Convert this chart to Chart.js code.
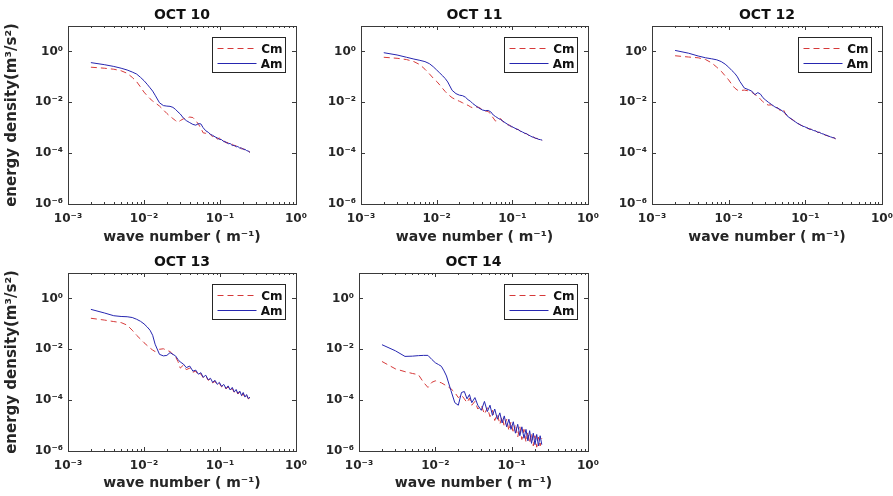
<!DOCTYPE html>
<html>
<head>
<meta charset="utf-8">
<script src="https://cdn.jsdelivr.net/npm/chart.js@4.4.0/dist/chart.umd.min.js"></script>
<style>
  html, body { margin: 0; padding: 0; background: #fff; }
  body { width: 893px; height: 496px; position: relative; overflow: hidden; }
  canvas { position: absolute; }
</style>
</head>
<body>
<canvas id="c10"></canvas>
<canvas id="c11"></canvas>
<canvas id="c12"></canvas>
<canvas id="c13"></canvas>
<canvas id="c14"></canvas>
<script>
// wave number grid (m^-1), shared by every panel
const waveNumber = [
  0.002, 0.003, 0.004, 0.005, 0.006, 0.007, 0.008, 0.009, 0.010, 0.011, 0.012, 0.013, 0.014,
  0.016, 0.018, 0.020, 0.022, 0.024, 0.026, 0.028, 0.030, 0.033, 0.036, 0.040, 0.044, 0.048,
  0.052, 0.056, 0.060, 0.065, 0.070, 0.075, 0.080, 0.086, 0.092, 0.098, 0.105, 0.112, 0.120,
  0.128, 0.136, 0.145, 0.154, 0.163, 0.172, 0.182, 0.192, 0.202, 0.213, 0.224, 0.236, 0.248
];

// energy density, stored as log10 (m^3/s^2)
const oct10Cm = [
  -0.62, -0.66, -0.70, -0.76, -0.86, -1.02, -1.19, -1.40, -1.60, -1.74, -1.86, -1.95, -2.02,
  -2.15, -2.30, -2.44, -2.55, -2.64, -2.72, -2.79, -2.72, -2.65, -2.62, -2.58, -2.60, -2.72,
  -2.86, -3.02, -3.20, -3.22, -3.16, -3.28, -3.35, -3.32, -3.45, -3.40, -3.52, -3.50, -3.60,
  -3.58, -3.66, -3.64, -3.72, -3.70, -3.77, -3.77, -3.83, -3.82, -3.88, -3.87, -3.93, -3.96
];
const oct10Am = [
  -0.44, -0.52, -0.59, -0.66, -0.73, -0.81, -0.89, -1.02, -1.15, -1.29, -1.43, -1.56, -1.72,
  -2.02, -2.13, -2.15, -2.16, -2.20, -2.28, -2.38, -2.46, -2.62, -2.72, -2.80, -2.87, -2.90,
  -2.84, -2.85, -3.00, -3.12, -3.18, -3.26, -3.30, -3.36, -3.40, -3.46, -3.47, -3.55, -3.56,
  -3.63, -3.62, -3.70, -3.69, -3.75, -3.74, -3.80, -3.80, -3.85, -3.85, -3.90, -3.92, -3.97
];
const oct11Cm = [
  -0.23, -0.27, -0.32, -0.40, -0.52, -0.70, -0.88, -1.05, -1.18, -1.32, -1.46, -1.58, -1.68,
  -1.82, -1.90, -1.96, -2.02, -2.08, -2.12, -2.18, -2.22, -2.18, -2.20, -2.28, -2.34, -2.36,
  -2.48, -2.62, -2.74, -2.70, -2.64, -2.76, -2.80, -2.88, -2.90, -2.97, -2.99, -3.06, -3.07,
  -3.15, -3.16, -3.23, -3.23, -3.30, -3.31, -3.37, -3.37, -3.42, -3.42, -3.47, -3.46, -3.50
];
const oct11Am = [
  -0.05, -0.14, -0.23, -0.30, -0.35, -0.40, -0.48, -0.60, -0.73, -0.85, -0.96, -1.07, -1.20,
  -1.53, -1.66, -1.72, -1.74, -1.80, -1.90, -1.96, -2.05, -2.14, -2.22, -2.30, -2.33, -2.32,
  -2.38, -2.50, -2.56, -2.63, -2.68, -2.74, -2.80, -2.86, -2.92, -2.95, -3.00, -3.04, -3.08,
  -3.13, -3.17, -3.21, -3.24, -3.28, -3.32, -3.36, -3.38, -3.41, -3.43, -3.46, -3.47, -3.49
];
const oct12Cm = [
  -0.17, -0.22, -0.25, -0.32, -0.45, -0.62, -0.78, -0.96, -1.12, -1.30, -1.44, -1.52, -1.54,
  -1.52, -1.55, -1.60, -1.70, -1.76, -1.88, -1.98, -2.06, -2.11, -2.10, -2.20, -2.22, -2.36,
  -2.30, -2.50, -2.55, -2.66, -2.70, -2.80, -2.82, -2.90, -2.92, -2.98, -2.99, -3.06, -3.06,
  -3.13, -3.12, -3.19, -3.18, -3.25, -3.24, -3.30, -3.30, -3.35, -3.35, -3.40, -3.39, -3.44
];
const oct12Am = [
  0.04, -0.07, -0.18, -0.25, -0.29, -0.33, -0.40, -0.50, -0.62, -0.75, -0.86, -1.00, -1.18,
  -1.44, -1.50, -1.56, -1.70, -1.62, -1.68, -1.82, -1.90, -2.00, -2.08, -2.18, -2.24, -2.30,
  -2.38, -2.46, -2.58, -2.64, -2.72, -2.78, -2.84, -2.88, -2.94, -2.96, -3.01, -3.04, -3.07,
  -3.11, -3.13, -3.17, -3.19, -3.23, -3.25, -3.28, -3.31, -3.33, -3.36, -3.38, -3.40, -3.43
];
const oct13Cm = [
  -0.78, -0.85, -0.91, -0.95, -1.05, -1.25, -1.45, -1.60, -1.74, -1.85, -1.95, -2.03, -2.09,
  -2.00, -1.98, -2.04, -2.09, -2.20, -2.30, -2.48, -2.74, -2.62, -2.80, -2.74, -2.90, -2.86,
  -3.02, -2.96, -3.12, -3.06, -3.22, -3.16, -3.32, -3.26, -3.40, -3.34, -3.48, -3.42, -3.56,
  -3.48, -3.62, -3.54, -3.70, -3.62, -3.76, -3.68, -3.84, -3.74, -3.90, -3.82, -3.95, -3.90
];
const oct13Am = [
  -0.43, -0.57, -0.68, -0.71, -0.72, -0.75, -0.82, -0.90, -1.00, -1.12, -1.25, -1.45, -1.80,
  -2.20, -2.26, -2.24, -2.13, -2.20, -2.26, -2.40, -2.50, -2.58, -2.72, -2.66, -2.86, -2.82,
  -2.98, -2.92, -3.10, -3.02, -3.20, -3.14, -3.30, -3.22, -3.38, -3.30, -3.46, -3.38, -3.54,
  -3.44, -3.60, -3.50, -3.68, -3.58, -3.74, -3.64, -3.82, -3.70, -3.88, -3.78, -3.94, -3.88
];
const oct14Cm = [
  -2.48, -2.77, -2.88, -2.95, -3.00, -3.30, -3.50, -3.30, -3.24, -3.28, -3.32, -3.38, -3.44,
  -3.55, -3.70, -3.90, -3.80, -3.95, -4.10, -3.92, -4.20, -4.05, -4.35, -4.20, -4.55, -4.30,
  -4.65, -4.40, -4.80, -4.55, -4.95, -4.65, -5.05, -4.75, -5.20, -4.85, -5.30, -4.95, -5.45,
  -5.05, -5.55, -5.15, -5.65, -5.25, -5.70, -5.30, -5.80, -5.40, -5.85, -5.45, -5.80, -5.50
];
const oct14Am = [
  -1.82, -2.06, -2.28, -2.27, -2.25, -2.24, -2.24, -2.40, -2.53, -2.60, -2.67, -2.85, -3.05,
  -3.62, -4.10, -4.20, -3.70, -3.66, -3.95, -3.78, -4.10, -3.90, -4.20, -4.40, -4.05, -4.45,
  -4.20, -4.60, -4.35, -4.75, -4.50, -4.90, -4.62, -5.05, -4.75, -5.15, -4.85, -5.30, -4.95,
  -5.40, -5.05, -5.50, -5.15, -5.60, -5.20, -5.70, -5.30, -5.75, -5.35, -5.80, -5.40, -5.75
];

const xTickValues = [1e-3, 1e-2, 1e-1, 1];
const xTickLabels = ['10\u207B\u00B3', '10\u207B\u00B2', '10\u207B\u00B9', '10\u2070'];
const yTickValues = [1e-6, 1e-4, 1e-2, 1];
const yTickLabels = ['10\u207B\u2076', '10\u207B\u2074', '10\u207B\u00B2', '10\u2070'];
const seriesNames = ['Cm', 'Am'];

Chart.defaults.font.family = "'DejaVu Sans', 'Liberation Sans', sans-serif";
Chart.defaults.font.weight = 'bold';
Chart.defaults.color = '#262626';

const AXIS = '#3a3a3a';

// box, inward ticks and the small legend inside the axes
const framePlugin = {
  id: 'frame',
  afterDraw(chart) {
    const { ctx, chartArea: a, scales } = chart;
    const sx = scales.x, sy = scales.y;
    ctx.save();
    ctx.strokeStyle = AXIS;
    ctx.lineWidth = 1;
    ctx.beginPath();
    xTickValues.forEach((v) => {
      const px = Math.round(sx.getPixelForValue(v)) + 0.5;
      ctx.moveTo(px, a.bottom); ctx.lineTo(px, a.bottom - 4);
      ctx.moveTo(px, a.top); ctx.lineTo(px, a.top + 4);
    });
    for (let d = -3; d < 0; d++) {
      for (let m = 2; m <= 9; m++) {
        const px = Math.round(sx.getPixelForValue(m * Math.pow(10, d))) + 0.5;
        ctx.moveTo(px, a.bottom); ctx.lineTo(px, a.bottom - 2);
        ctx.moveTo(px, a.top); ctx.lineTo(px, a.top + 2);
      }
    }
    yTickValues.forEach((v) => {
      const py = Math.round(sy.getPixelForValue(v)) + 0.5;
      ctx.moveTo(a.left, py); ctx.lineTo(a.left + 4, py);
      ctx.moveTo(a.right, py); ctx.lineTo(a.right - 4, py);
    });
    ctx.stroke();
    ctx.strokeRect(Math.round(a.left) + 0.5, Math.round(a.top) + 0.5,
      Math.round(a.right - a.left), Math.round(a.bottom - a.top));

    // legend
    const bw = 73, bh = 35;
    const bx = Math.round(a.right) - 11 - bw + 0.5;
    const by = Math.round(a.top) + 11 + 0.5;
    ctx.fillStyle = '#fff';
    ctx.fillRect(bx, by, bw, bh);
    ctx.strokeStyle = '#262626';
    ctx.strokeRect(bx, by, bw, bh);
    ctx.font = "bold 12px 'DejaVu Sans', sans-serif";
    ctx.textAlign = 'right';
    ctx.textBaseline = 'middle';
    chart.data.datasets.forEach((ds, i) => {
      const ly = by + 11 + i * 15;
      ctx.strokeStyle = ds.borderColor;
      ctx.setLineDash(ds.borderDash || []);
      ctx.beginPath();
      ctx.moveTo(bx + 5, ly); ctx.lineTo(bx + 44, ly);
      ctx.stroke();
      ctx.setLineDash([]);
      ctx.fillStyle = '#111';
      ctx.fillText(ds.label, bx + bw - 3, ly + 1);
    });
    ctx.restore();
  }
};

const panels = [
  { id: 'c10', title: 'OCT 10', cm: oct10Cm, am: oct10Am, left: 0,   top: 0,   w: 320, h: 250, yw: 68, pr: 24, th: 26, tp: 6.6, xh: 46, ytitle: true },
  { id: 'c11', title: 'OCT 11', cm: oct11Cm, am: oct11Am, left: 300, top: 0,   w: 310, h: 250, yw: 61, pr: 22, th: 26, tp: 6.6, xh: 46, ytitle: false },
  { id: 'c12', title: 'OCT 12', cm: oct12Cm, am: oct12Am, left: 590, top: 0,   w: 303, h: 250, yw: 62, pr: 11, th: 26, tp: 6.6, xh: 46, ytitle: false },
  { id: 'c13', title: 'OCT 13', cm: oct13Cm, am: oct13Am, left: 0,   top: 250, w: 320, h: 246, yw: 68, pr: 24, th: 23, tp: 3.6, xh: 45, ytitle: true },
  { id: 'c14', title: 'OCT 14', cm: oct14Cm, am: oct14Am, left: 300, top: 250, w: 310, h: 246, yw: 59, pr: 22, th: 23, tp: 3.6, xh: 45, ytitle: false }
];

panels.forEach((p) => {
  const canvas = document.getElementById(p.id);
  canvas.width = p.w;
  canvas.height = p.h;
  canvas.style.left = p.left + 'px';
  canvas.style.top = p.top + 'px';

  const toPoints = (logs) => waveNumber.map((k, i) => ({ x: k, y: Math.pow(10, logs[i]) }));

  new Chart(canvas.getContext('2d'), {
    type: 'line',
    data: {
      datasets: [
        {
          label: seriesNames[0],
          data: toPoints(p.cm),
          borderColor: '#d63a3a',
          borderDash: [6, 4],
          borderWidth: 1,
          pointRadius: 0,
          tension: 0,
          order: 1,
        },
        {
          label: seriesNames[1],
          data: toPoints(p.am),
          borderColor: '#2626b0',
          borderWidth: 1,
          pointRadius: 0,
          tension: 0,
          order: 0,
        },
      ],
    },
    options: {
      responsive: false,
      animation: false,
      events: [],
      layout: { padding: { left: 0, right: p.pr, top: 0, bottom: 0 } },
      plugins: {
        legend: { display: false },
        tooltip: { enabled: false },
        title: { display: false },
      },
      scales: {
        // top axis carries only the panel title, so it centres over the plot box
        xTop: {
          type: 'logarithmic',
          position: 'top',
          min: 1e-3,
          max: 1,
          grid: { display: false, drawTicks: false },
          border: { display: false },
          ticks: { display: false },
          afterFit: (s) => { s.height = p.th; s.paddingLeft = 0; s.paddingRight = 0; },
          title: {
            display: true,
            text: p.title,
            color: '#111',
            font: { size: 14, weight: 'bold' },
            padding: { top: p.tp, bottom: 0 },
          },
        },
        x: {
          type: 'logarithmic',
          position: 'bottom',
          min: 1e-3,
          max: 1,
          grid: { display: false, drawTicks: false },
          border: { display: false },
          afterBuildTicks: (s) => { s.ticks = xTickValues.map((v) => ({ value: v })); },
          afterFit: (s) => { s.height = p.xh; s.paddingLeft = 0; s.paddingRight = 0; },
          ticks: {
            autoSkip: false,
            maxRotation: 0,
            padding: 8,
            color: '#262626',
            font: { size: 12, weight: 'bold' },
            callback: (v, i) => xTickLabels[i],
          },
          title: {
            display: true,
            text: 'wave number ( m\u207B\u00B9)',
            color: '#262626',
            font: { size: 14, weight: 'bold' },
            padding: { top: 0, bottom: 4 },
          },
        },
        y: {
          type: 'logarithmic',
          min: 1e-6,
          max: 10,
          grid: { display: false, drawTicks: false },
          border: { display: false },
          afterBuildTicks: (s) => { s.ticks = yTickValues.map((v) => ({ value: v })); },
          afterFit: (s) => { s.width = p.yw; s.paddingTop = 0; s.paddingBottom = 0; },
          ticks: {
            autoSkip: false,
            padding: 5,
            color: '#262626',
            font: { size: 12, weight: 'bold' },
            callback: (v, i) => yTickLabels[i],
          },
          title: {
            display: p.ytitle,
            text: 'energy density(m\u00B3/s\u00B2)',
            color: '#262626',
            font: { size: 15, weight: 'bold' },
            padding: { top: 3, bottom: 0 },
          },
        },
      },
    },
    plugins: [framePlugin],
  });
});
</script>
</body>
</html>
